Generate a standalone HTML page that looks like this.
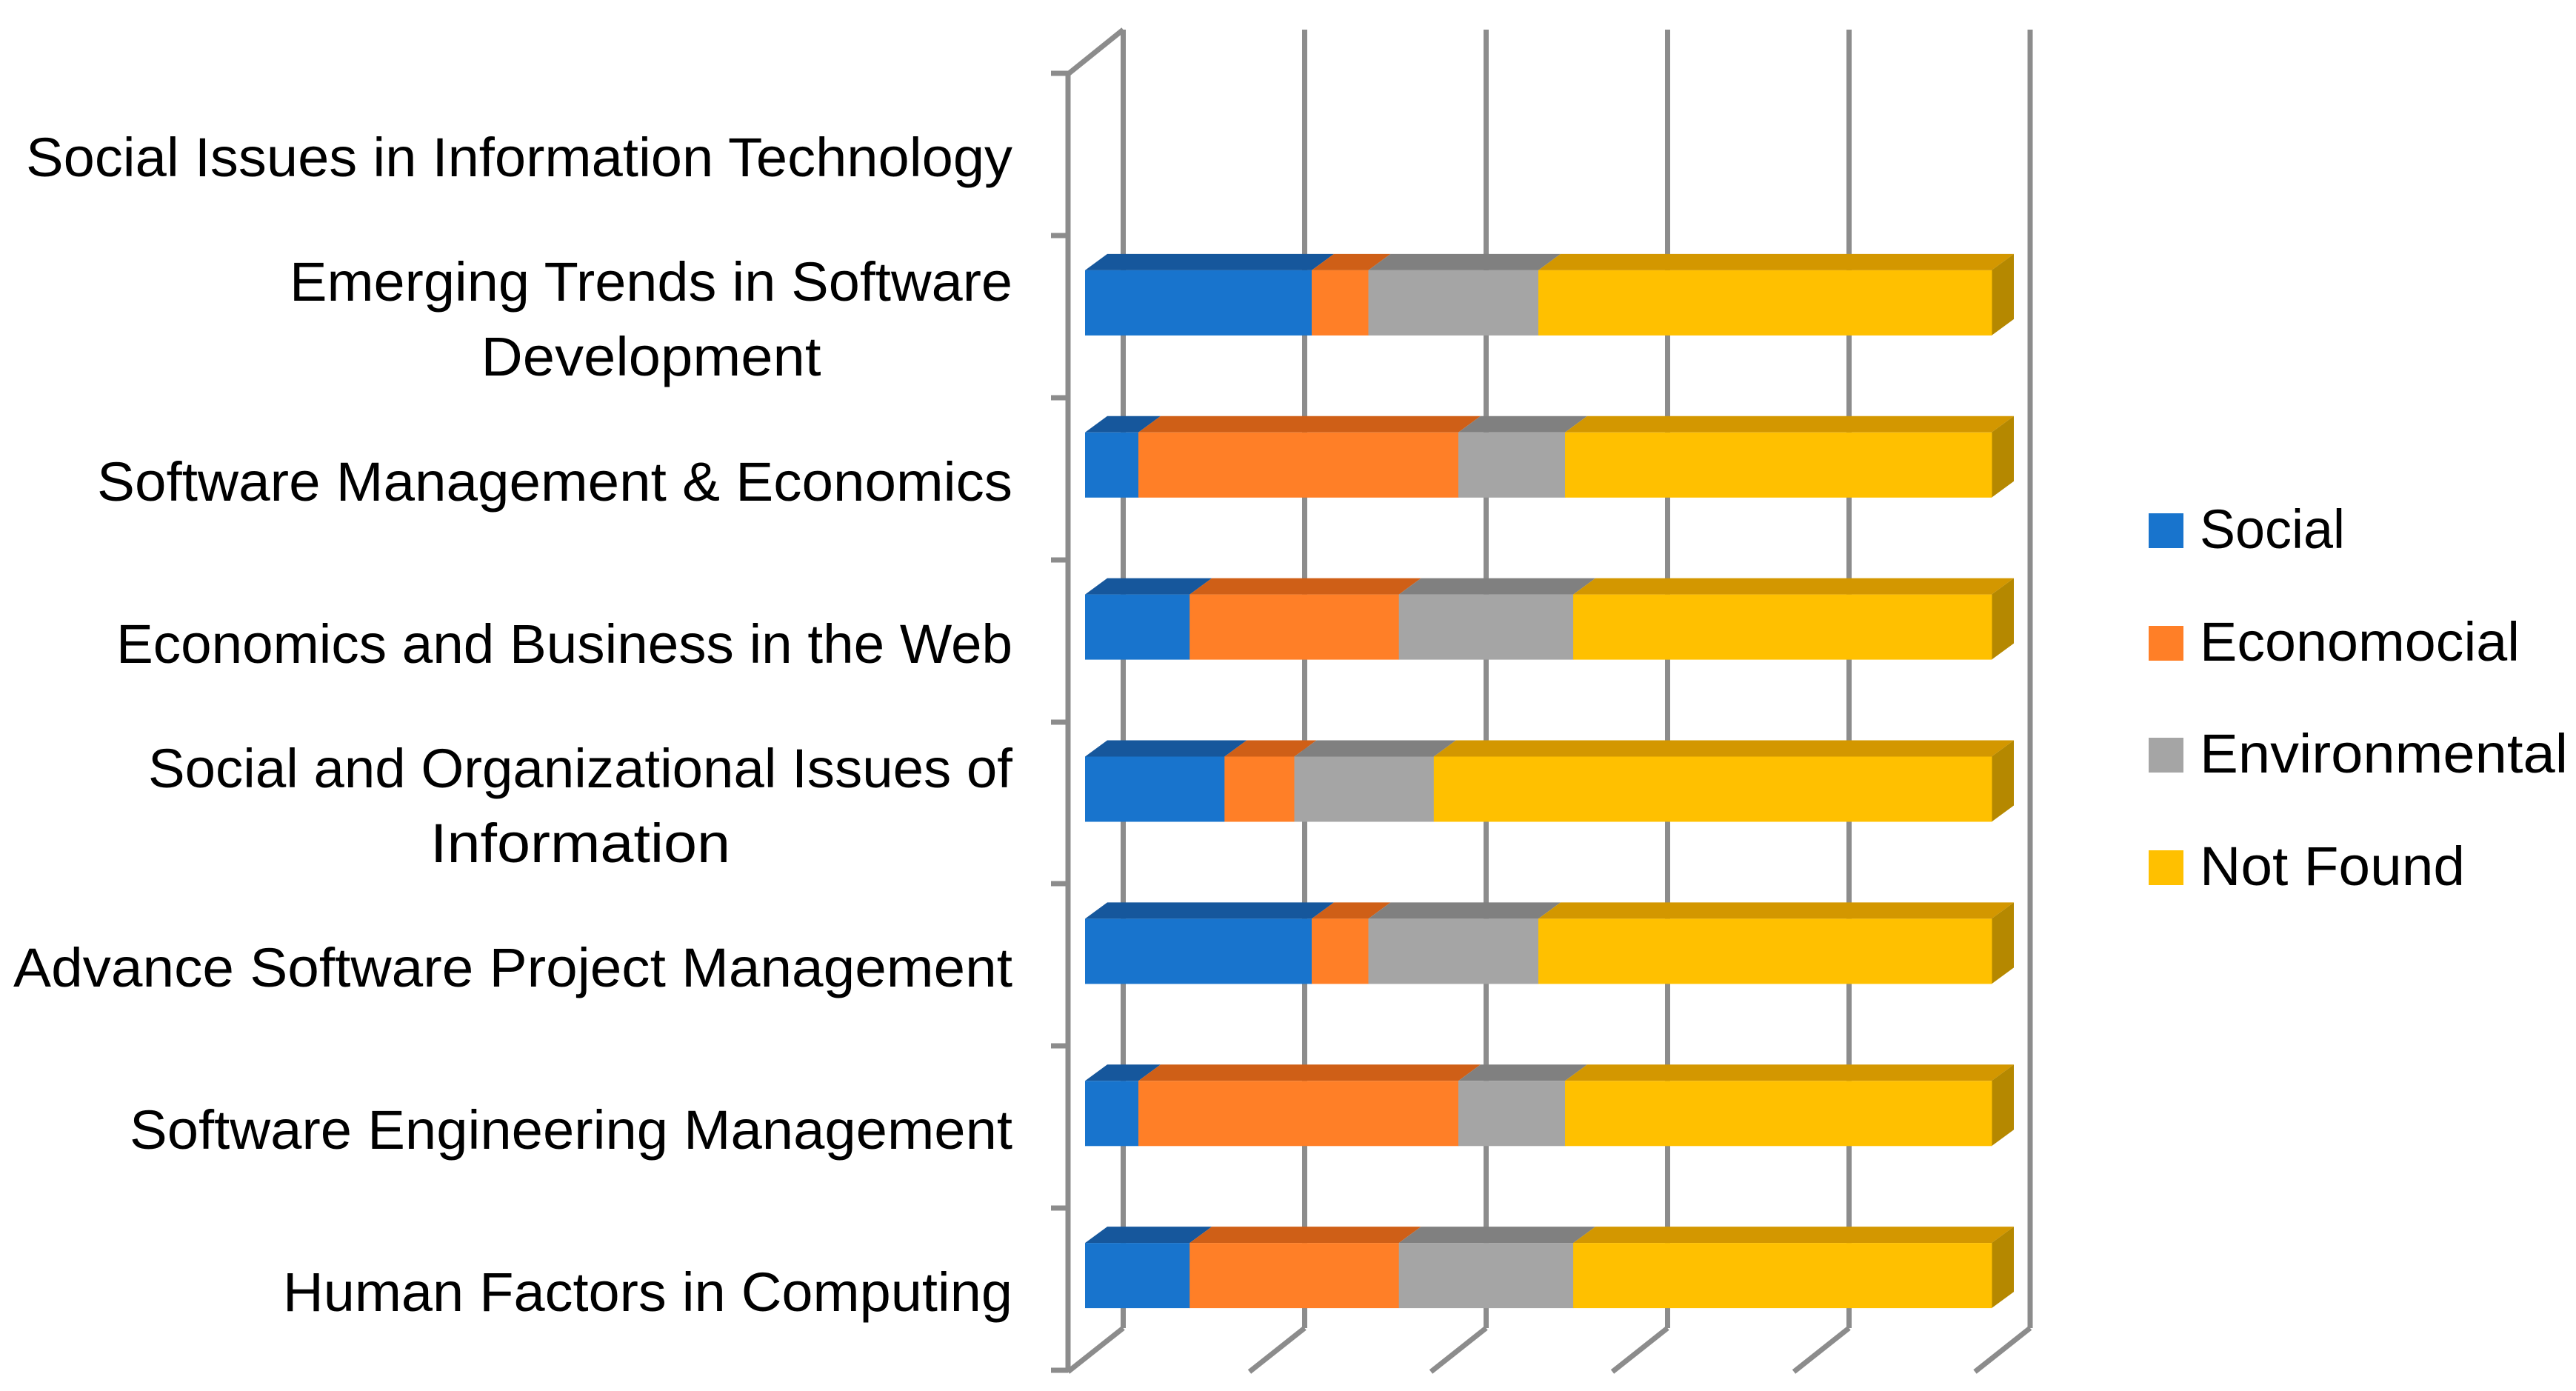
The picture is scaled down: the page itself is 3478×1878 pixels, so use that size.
<!DOCTYPE html>
<html>
<head>
<meta charset="utf-8">
<style>
  html, body { margin:0; padding:0; background:#ffffff; }
  svg { display:block; }
  text { font-family: "Liberation Sans", "DejaVu Sans", sans-serif; font-size:74px; fill:#000; }
</style>
</head>
<body>
<svg width="3478" height="1878" viewBox="0 0 3478 1878" xmlns="http://www.w3.org/2000/svg">
  <rect x="0" y="0" width="3478" height="1878" fill="#ffffff"/>

  <!-- gridlines (back wall) -->
  <g stroke="#8c8c8c" stroke-width="7" fill="none" stroke-linecap="butt">
    <line x1="1516.5" y1="40" x2="1516.5" y2="1793"/>
    <line x1="1761.5" y1="40" x2="1761.5" y2="1793"/>
    <line x1="2006.5" y1="40" x2="2006.5" y2="1793"/>
    <line x1="2251.5" y1="40" x2="2251.5" y2="1793"/>
    <line x1="2496.5" y1="40" x2="2496.5" y2="1793"/>
    <line x1="2741" y1="40" x2="2741" y2="1793"/>
    <!-- floor diagonals -->
    <line x1="1516.5" y1="1793" x2="1442" y2="1852"/>
    <line x1="1761.5" y1="1793" x2="1687" y2="1852"/>
    <line x1="2006.5" y1="1793" x2="1932" y2="1852"/>
    <line x1="2251.5" y1="1793" x2="2177" y2="1852"/>
    <line x1="2496.5" y1="1793" x2="2422" y2="1852"/>
    <line x1="2741" y1="1793" x2="2666.5" y2="1852"/>
    <!-- top diagonal of side wall -->
    <line x1="1442" y1="100" x2="1516.5" y2="40"/>
    <!-- category axis -->
    <line x1="1442" y1="97" x2="1442" y2="1853"/>
    <!-- ticks -->
    <line x1="1419" y1="99" x2="1442" y2="99"/>
    <line x1="1419" y1="318" x2="1442" y2="318"/>
    <line x1="1419" y1="537" x2="1442" y2="537"/>
    <line x1="1419" y1="756" x2="1442" y2="756"/>
    <line x1="1419" y1="975" x2="1442" y2="975"/>
    <line x1="1419" y1="1193" x2="1442" y2="1193"/>
    <line x1="1419" y1="1412" x2="1442" y2="1412"/>
    <line x1="1419" y1="1631" x2="1442" y2="1631"/>
    <line x1="1419" y1="1850" x2="1442" y2="1850"/>
  </g>

  <!-- bars generated inline -->
  <g id="bars"></g>

  <!-- category labels -->
  <text x="35" y="238" textLength="1332" lengthAdjust="spacingAndGlyphs">Social Issues in Information Technology</text>
  <text x="391" y="406" textLength="976" lengthAdjust="spacingAndGlyphs">Emerging Trends in Software</text>
  <text x="649.5" y="507" textLength="459" lengthAdjust="spacingAndGlyphs">Development</text>
  <text x="131" y="676" textLength="1236" lengthAdjust="spacingAndGlyphs">Software Management &amp; Economics</text>
  <text x="157" y="895" textLength="1210" lengthAdjust="spacingAndGlyphs">Economics and Business in the Web</text>
  <text x="200" y="1063" textLength="1167" lengthAdjust="spacingAndGlyphs">Social and Organizational Issues of</text>
  <text x="581" y="1164" textLength="405" lengthAdjust="spacingAndGlyphs">Information</text>
  <text x="18" y="1332" textLength="1349" lengthAdjust="spacingAndGlyphs">Advance Software Project Management</text>
  <text x="175" y="1551" textLength="1192" lengthAdjust="spacingAndGlyphs">Software Engineering Management</text>
  <text x="382" y="1770" textLength="985" lengthAdjust="spacingAndGlyphs">Human Factors in Computing</text>

  <!-- legend -->
  <rect x="2901" y="693" width="47" height="47" fill="#1874CD"/>
  <text x="2970" y="740" textLength="196" lengthAdjust="spacingAndGlyphs">Social</text>
  <rect x="2901" y="845" width="47" height="47" fill="#FF7F27"/>
  <text x="2970" y="892" textLength="432" lengthAdjust="spacingAndGlyphs">Economocial</text>
  <rect x="2901" y="996" width="47" height="47" fill="#A5A5A5"/>
  <text x="2970" y="1043" textLength="497" lengthAdjust="spacingAndGlyphs">Environmental</text>
  <rect x="2901" y="1148" width="47" height="47" fill="#FFC000"/>
  <text x="2970" y="1195" textLength="358" lengthAdjust="spacingAndGlyphs">Not Found</text>
</svg>

<script>
(function(){
  var NS = "http://www.w3.org/2000/svg";
  var g = document.getElementById("bars");
  var front = ["#1874CD","#FF7F27","#A5A5A5","#FFC000"];
  var top = ["#16579C","#CF5F17","#808080","#D39700"];
  var rightC = "#B58800";
  var data = {
    1:[4,1,3,8], 2:[1,6,2,8], 3:[3,6,5,12], 4:[2,1,2,8],
    5:[4,1,3,8], 6:[1,6,2,8], 7:[3,6,5,12]
  };
  var X0 = 1465, W = 1224, FH = 88, DX = 30, DY = 22;
  function poly(pts, fill){
    var p = document.createElementNS(NS,"polygon");
    p.setAttribute("points", pts.map(function(a){return a[0].toFixed(1)+","+a[1].toFixed(1);}).join(" "));
    p.setAttribute("fill", fill);
    g.appendChild(p);
  }
  for (var k=1;k<=7;k++){
    var v = data[k], tot = v.reduce(function(a,b){return a+b;},0);
    var ft = 99 + 218.875*k + 47, fb = ft + FH;
    var xs = [X0], acc=0;
    for (var i=0;i<4;i++){ acc+=v[i]; xs.push(X0 + W*acc/tot); }
    // top faces
    for (var i=0;i<4;i++){
      poly([[xs[i],ft],[xs[i+1],ft],[xs[i+1]+DX,ft-DY],[xs[i]+DX,ft-DY]], top[i]);
    }
    // right face
    var xr = xs[4];
    poly([[xr,ft],[xr+DX,ft-DY],[xr+DX,fb-DY],[xr,fb]], rightC);
    // fronts
    for (var i=0;i<4;i++){
      var r = document.createElementNS(NS,"rect");
      r.setAttribute("x", xs[i].toFixed(1));
      r.setAttribute("y", ft.toFixed(1));
      r.setAttribute("width", (xs[i+1]-xs[i]+0.5).toFixed(1));
      r.setAttribute("height", FH);
      r.setAttribute("fill", front[i]);
      g.appendChild(r);
    }
  }
})();
</script>
</body>
</html>
